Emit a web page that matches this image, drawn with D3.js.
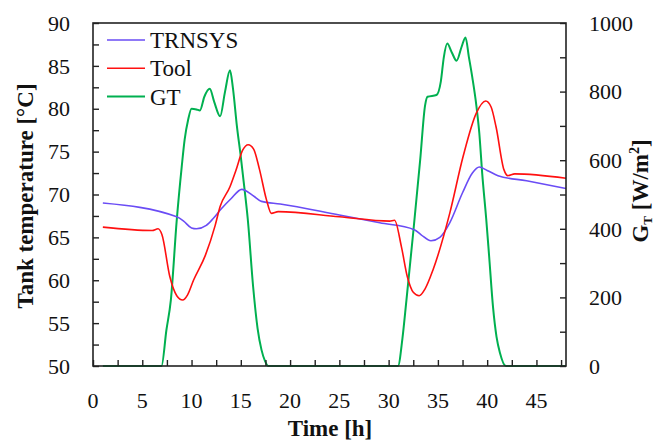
<!DOCTYPE html>
<html><head><meta charset="utf-8">
<script src="https://cdn.jsdelivr.net/npm/d3@7"></script>
<style>
html,body{margin:0;padding:0;background:#fff;}
text{font-family:"Liberation Serif","DejaVu Serif",serif;fill:#111;}
</style></head>
<body><svg id="c" width="656" height="441"></svg>
<script>
// ---- data ----
const seriesNames = ["TRNSYS", "Tool", "GT"];
const trnsysT = [1,8.5,9.2,10.0,10.5,11.5,12.2,13.0,14.0,15.1,16.2,17.1,19,25,29.1,32.6,33.3,34.3,35.2,36.2,37.5,38.5,39.2,40.0,41.1,44,48];
const trnsysV = [69.0,67.4,66.9,66.1,66.0,66.4,67.2,68.3,69.5,70.6,69.9,69.2,68.9,67.6,66.7,65.9,65.3,64.6,65.0,66.7,70.2,72.5,73.2,72.8,72.2,71.6,70.7];
const toolT = [1,6.0,6.6,7.0,7.8,8.5,9.1,9.6,10.2,11.4,12.4,12.9,13.9,14.5,15.2,15.75,16.3,16.9,17.6,18.1,18.8,25,30.1,30.6,31.3,31.9,32.5,33.1,33.7,34.5,36.2,37.55,38.9,39.85,40.4,40.9,41.7,42.1,42.8,48];
const toolV = [66.2,65.8,66.0,65.3,60.4,58.2,57.7,58.3,60.0,62.9,66.4,68.6,70.9,72.8,75.2,75.8,75.3,72.9,69.4,67.8,68.0,67.4,66.9,67.0,63.9,60.4,58.6,58.2,59.0,61.2,67.8,74.4,79.5,80.9,80.2,77.9,72.9,72.2,72.4,71.9];
const gtT = [1,6.95,7.45,7.9,8.5,9.0,9.3,9.65,10.0,10.5,10.85,11.3,11.85,12.3,12.9,13.4,13.9,14.2,14.6,15.0,15.4,15.7,16.25,16.7,17.1,17.45,17.8,
             30.95,31.4,31.8,32.5,33.2,33.7,33.95,34.85,35.3,35.6,35.95,36.4,36.9,37.4,37.8,38.15,38.5,38.9,39.2,39.5,39.9,40.2,40.6,40.95,41.3,41.9,48];
const gtV = [0,0,105,192,426,580,660,717,750,748,745,785,808,770,728,800,862,810,700,610,510,430,231,110,47,15,0,
             0,80,190,390,600,760,785,790,830,900,940,915,890,930,958,900,840,760,680,560,430,320,170,85,38,0,0];
const xTicks = d3.range(0, 48, 2.5);
const xLabels = [0,5,10,15,20,25,30,35,40,45];
const yLeftTicks = d3.range(50, 90.01, 2.5);
const yLeftLabels = [50,55,60,65,70,75,80,85,90];
const yRightTicks = d3.range(0, 1000.1, 100);
const yRightLabels = [0,200,400,600,800,1000];
const colors = ["#6a4cf5", "#ff1010", "#00b050"];

// ---- layout ----
const L = 93, R = 566, T = 23, B = 366;
const svg = d3.select("#c");
const x = d3.scaleLinear().domain([0,48]).range([L,R]);
const yL = d3.scaleLinear().domain([50,90]).range([B,T]);
const yR = d3.scaleLinear().domain([0,1000]).range([B,T]);

const line = (xs, ys, sc) => d3.line().x((d,i)=>x(xs[i])).y((d,i)=>sc(ys[i])).curve(d3.curveMonotoneX)(xs);

// series
svg.append("path").attr("d", line(gtT, gtV, yR)).attr("fill","none").attr("stroke",colors[2]).attr("stroke-width",2);
svg.append("path").attr("d", line(trnsysT, trnsysV, yL)).attr("fill","none").attr("stroke",colors[0]).attr("stroke-width",1.6);
svg.append("path").attr("d", line(toolT, toolV, yL)).attr("fill","none").attr("stroke",colors[1]).attr("stroke-width",1.6);

// axes
const ax = svg.append("g");
ax.append("g").attr("transform",`translate(0,${B})`)
  .call(d3.axisBottom(x).tickValues(xTicks).tickSizeInner(-6).tickSizeOuter(0).tickFormat(""));
ax.append("g").attr("transform",`translate(${L},0)`)
  .call(d3.axisLeft(yL).tickValues(yLeftTicks).tickSizeInner(-6).tickSizeOuter(0).tickFormat(""));
ax.append("g").attr("transform",`translate(${R},0)`)
  .call(d3.axisRight(yR).tickValues(yRightTicks).tickSizeInner(-6).tickSizeOuter(0).tickFormat(""));
ax.selectAll(".domain").remove();
ax.selectAll(".tick line").attr("stroke","#222").attr("stroke-width",1.4);
svg.append("rect").attr("x",L).attr("y",T).attr("width",R-L).attr("height",B-T)
  .attr("fill","none").attr("stroke","#222").attr("stroke-width",1.6);

// tick labels
svg.append("g").selectAll("text").data(xLabels).join("text")
  .attr("x",d=>x(d)).attr("y",408).attr("text-anchor","middle").attr("font-size",22).text(d=>d);
svg.append("g").selectAll("text").data(yLeftLabels).join("text")
  .attr("x",70).attr("y",d=>yL(d)).attr("dy","0.35em").attr("text-anchor","end").attr("font-size",22).text(d=>d);
svg.append("g").selectAll("text").data(yRightLabels).join("text")
  .attr("x",589).attr("y",d=>yR(d)).attr("dy","0.35em").attr("text-anchor","start").attr("font-size",22).text(d=>d);

// axis titles
svg.append("text").attr("x",330).attr("y",436).attr("text-anchor","middle")
  .attr("font-size",23).attr("font-weight","bold").text("Time [h]");
svg.append("text").attr("transform","translate(33,196) rotate(-90)").attr("text-anchor","middle")
  .attr("font-size",23).attr("font-weight","bold").text("Tank temperature [°C]");
const rt = svg.append("text").attr("transform","translate(648,191) rotate(-90)").attr("text-anchor","middle")
  .attr("font-size",23).attr("font-weight","bold");
rt.append("tspan").text("G");
rt.append("tspan").attr("font-size",13).attr("dy",4).text("T");
rt.append("tspan").attr("dy",-4).text(" [W/m");
rt.append("tspan").attr("font-size",14).attr("dy",-9).text("2");
rt.append("tspan").attr("dy",9).text("]");

// legend
const lg = svg.append("g");
seriesNames.forEach((n,i)=>{
  const yy = 40 + i*28.3;
  lg.append("line").attr("x1",107).attr("x2",145).attr("y1",yy).attr("y2",yy)
    .attr("stroke",colors[i]).attr("stroke-width",i==2?2:1.6);
  lg.append("text").attr("x",150).attr("y",yy).attr("dy","0.35em").attr("font-size",23).text(n);
});
</script></body></html>
